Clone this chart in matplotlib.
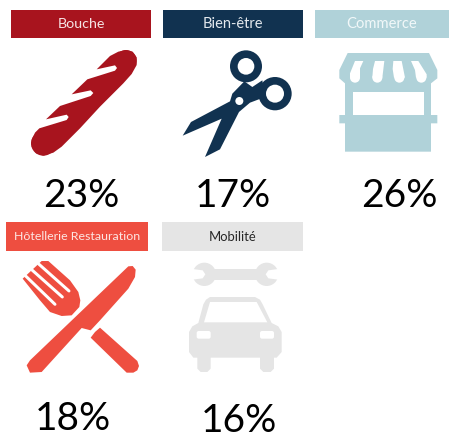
import matplotlib
matplotlib.use('Agg')
import matplotlib.pyplot as plt
from matplotlib.patches import Polygon, Circle, Rectangle, FancyBboxPatch

plt.rcParams['font.family'] = ['Lato', 'DejaVu Sans']

# Data
categories = ['Bouche', 'Bien-être', 'Commerce', 'Hôtellerie Restauration', 'Mobilité']
percents = [23, 17, 26, 18, 16]
colors = ['#a8141e', '#113250', '#b0d2d9', '#ee4e40', '#e5e5e5']
label_colors = ['#f6e3e4', '#e4e9ee', '#f2f8f9', '#fde6e3', '#262626']

# Layout in pixels of the picture
header_x = [(11, 151), (163, 303), (315, 449), (6, 148), (162, 303)]
header_y = [(10, 38), (10, 38), (10, 38), (222, 251), (222, 251)]
pct_pos = [(81, 207), (233, 207), (399, 207), (73, 430), (239, 432.5)]
label_size = [10.3, 10.5, 10.6, 8.9, 9.4]

fig = plt.figure(figsize=(4.49, 4.34), dpi=100)
ax = fig.add_axes([0, 0, 1, 1])
ax.set_xlim(0, 449)
ax.set_ylim(434, 0)
ax.axis('off')


def px(pts, ox, oy):
    return [(ox + x / 3, oy + y / 3) for x, y in pts]


def poly(pts, ox, oy, color, z=3):
    ax.add_patch(Polygon(px(pts, ox, oy), closed=True, fc=color, ec='none', zorder=z))


def circ(x, y, r, ox, oy, color, z=3):
    ax.add_patch(Circle((ox + x / 3, oy + y / 3), r / 3, fc=color, ec='none', zorder=z))


def slit(p1, p2, ox, oy, width=3.0):
    (x1, y1), (x2, y2) = px([p1, p2], ox, oy)
    ax.plot([x1, x2], [y1, y2], color='white', lw=width * 0.72, solid_capstyle='round', zorder=4)


def baguette(color):
    pts = [(378, 150), (398, 155), (410, 172), (410, 195), (395, 222), (370, 250), (300, 320),
           (240, 385), (185, 440), (160, 458), (130, 467), (108, 460), (95, 440), (95, 420),
           (105, 398), (118, 385), (200, 360), (206, 351), (200, 344), (138, 358), (180, 318),
           (272, 288), (280, 279), (272, 271), (215, 283), (262, 238), (345, 212), (351, 204),
           (345, 196), (290, 208), (330, 168), (355, 155)]
    poly(pts, 0, 0, color)
    circ(378, 182, 32, 0, 0, color)
    circ(130, 430, 37, 0, 0, color)


def scissors(color):
    ox, oy = 175, 42
    circ(213, 73, 48, ox, oy, color)
    circ(213, 73, 25, ox, oy, 'white', 4)
    circ(300, 155, 50, ox, oy, color)
    circ(300, 155, 27, ox, oy, 'white', 4)
    poly([(23, 281), (48, 240), (165, 178), (172, 155), (208, 118), (232, 135), (262, 115),
          (270, 165), (225, 182), (192, 210), (135, 322), (90, 345), (140, 230)], ox, oy, color)
    circ(193, 177, 12, ox, oy, 'white', 4)


def shop(color):
    ox, oy = 330, 45
    poly([(53, 24), (297, 24), (322, 75), (322, 100), (303, 115), (303, 210), (322, 210),
          (322, 235), (303, 235), (303, 320), (45, 320), (45, 235), (28, 235), (28, 210),
          (45, 210), (45, 115), (28, 100), (28, 75)], ox, oy, color)
    ax.add_patch(Rectangle((ox + 68 / 3, oy + 142 / 3), 213 / 3, 68 / 3, fc='white', ec='none', zorder=4))
    stripes = [[(75, 48), (100, 48), (90, 70), (90, 98), (60, 98), (60, 85)],
               [(135, 48), (163, 48), (157, 98), (127, 98), (129, 72)],
               [(190, 48), (215, 48), (225, 98), (192, 98), (188, 72)],
               [(243, 48), (265, 48), (290, 88), (290, 98), (258, 98), (255, 75)]]
    bottoms = [(75, 98), (142, 98), (208, 98), (274, 98)]
    for s, b in zip(stripes, bottoms):
        poly(s, ox, oy, 'white', 4)
        circ(b[0], b[1], 15, ox, oy, 'white', 4)


def cutlery(color):
    ox, oy = 0, 217
    poly([(385, 148), (398, 147), (407, 158), (405, 180), (385, 215), (300, 310), (272, 340),
          (245, 333), (125, 465), (90, 467), (80, 445), (90, 430)], ox, oy, color)
    poly([(300, 332), (412, 432), (417, 447), (412, 460), (400, 467), (380, 467), (272, 362),
          (285, 345)], ox, oy, color)
    poly([(125, 132), (145, 132), (210, 190), (235, 225), (241, 250), (238, 270), (215, 295),
          (185, 297), (150, 285), (120, 250), (68, 185)], ox, oy, color)
    slit((115, 140), (207, 222), ox, oy)
    slit((95, 158), (187, 240), ox, oy)
    slit((76, 176), (165, 262), ox, oy)


def car(color):
    ox, oy = 160, 217
    # wrench
    circ(133, 172, 35, ox, oy, color)
    circ(320, 172, 35, ox, oy, color)
    poly([(140, 155), (315, 155), (315, 188), (140, 188)], ox, oy, color)
    poly([(90, 155), (128, 160), (136, 172), (128, 184), (90, 189)], ox, oy, 'white', 4)
    poly([(362, 155), (325, 160), (317, 172), (325, 184), (362, 189)], ox, oy, 'white', 4)
    # body
    poly([(150, 240), (285, 240), (300, 248), (308, 262), (335, 318), (355, 328), (365, 345),
          (365, 405), (350, 422), (342, 422), (342, 455), (332, 465), (310, 465), (300, 455),
          (300, 422), (152, 422), (152, 455), (142, 465), (122, 465), (112, 455), (112, 422),
          (100, 422), (87, 405), (87, 345), (97, 328), (115, 318), (130, 262), (138, 248)],
         ox, oy, color)
    poly([(150, 255), (290, 255), (322, 316), (132, 316)], ox, oy, 'white', 4)
    for x0 in (110, 300):
        ax.add_patch(FancyBboxPatch((ox + (x0 + 6) / 3, oy + 348 / 3), 30 / 3, 11 / 3,
                                    boxstyle='round,pad=2', fc='white', ec='none', zorder=4))


icons = [baguette, scissors, shop, cutlery, car]

for i, name in enumerate(categories):
    x0, x1 = header_x[i]
    y0, y1 = header_y[i]
    ax.add_patch(Rectangle((x0, y0), x1 - x0, y1 - y0, fc=colors[i], ec='none', zorder=2))
    ax.text((x0 + x1) / 2, (y0 + y1) / 2 + 0.5, name, color=label_colors[i], fontsize=label_size[i],
            ha='center', va='center', zorder=5)
    icons[i](colors[i])
    ax.text(pct_pos[i][0], pct_pos[i][1], f'{percents[i]}%', color='black', fontsize=28,
            ha='center', va='baseline', zorder=5)

fig.savefig('out.png', dpi=100, facecolor='white')
